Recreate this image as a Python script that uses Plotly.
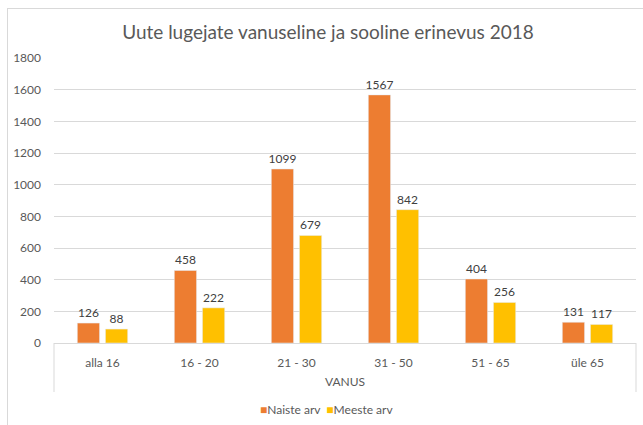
import plotly.graph_objects as go

categories = ["alla 16", "16 - 20", "21 - 30", "31 - 50", "51 - 65", "üle 65"]
naiste = [126, 458, 1099, 1567, 404, 131]
meeste = [88, 222, 679, 842, 256, 117]
y_ticks = [0, 200, 400, 600, 800, 1000, 1200, 1400, 1600, 1800]
series_names = ["Naiste arv", "Meeste arv"]
series_colors = ["#ED7D31", "#FFC000"]

FONT = "Lato, 'Open Sans', sans-serif"
GREY = "#595959"
GRID = "#D9D9D9"

fig = go.Figure()
for name, vals, col in zip(series_names, [naiste, meeste], series_colors):
    fig.add_trace(go.Bar(name=name, x=categories, y=vals, marker_color=col,
                         text=vals, textposition="outside", cliponaxis=False, constraintext="none",
                         showlegend=False,
                         textfont=dict(color="#404040", size=12, family=FONT)))

L, R, T, B = 54, 7, 58, 82
W, H = 643, 425
pw = W - L - R
ph = H - T - B

def px(x):
    return (x - L) / pw

def py(y):
    return (H - B - y) / ph

shapes = [
    dict(type="rect", xref="paper", yref="paper", x0=px(7), x1=px(8), y0=py(425), y1=py(8),
         fillcolor=GRID, line=dict(width=0)),
    dict(type="line", xref="paper", yref="paper", x0=0, x1=0, y0=0, y1=py(392),
         line=dict(color=GRID, width=1)),
    dict(type="line", xref="paper", yref="paper", x0=1, x1=1, y0=0, y1=py(392),
         line=dict(color=GRID, width=1)),
]

legend_text = "&nbsp;&nbsp;".join(
    f'<span style="color:{c}">■</span>{n}' for n, c in zip(series_names, series_colors)
)
annotations = [
    dict(text=legend_text, xref="paper", yref="paper", x=px(326), y=py(409),
         xanchor="center", yanchor="middle", showarrow=False,
         font=dict(size=12, color=GREY, family=FONT)),
]

fig.update_layout(
    width=W, height=H,
    margin=dict(l=L, r=R, t=T, b=B, pad=0, autoexpand=False),
    paper_bgcolor="white", plot_bgcolor="white",
    font=dict(family=FONT, color=GREY, size=12),
    title=dict(text="Uute lugejate vanuseline ja sooline erinevus 2018",
               x=328 / W, xanchor="center", y=1 - 32 / H, yanchor="middle",
               font=dict(size=19, color=GREY, family=FONT)),
    barmode="group", bargap=0.42, bargroupgap=0.21,
    xaxis=dict(showline=True, linecolor=GRID, linewidth=1, ticks="", showgrid=False,
               automargin=False, ticklabelstandoff=9,
               tickfont=dict(size=12, color=GREY),
               title=dict(text="VANUS", font=dict(size=12, color=GREY), standoff=8)),
    yaxis=dict(range=[0, 1800], tickvals=y_ticks, showgrid=True, gridcolor=GRID, gridwidth=1,
               zeroline=False, showline=False, ticks="", ticklabelstandoff=12, automargin=False,
               tickfont=dict(size=12, color=GREY)),
    showlegend=False,
    shapes=shapes,
    annotations=annotations,
)

post = """
document.body.style.margin='0';
var b = document.createElement('div');
b.style.position='absolute'; b.style.left='7px'; b.style.top='8px';
b.style.width='640px'; b.style.height='1px'; b.style.background='#D9D9D9';
b.style.pointerEvents='none'; b.style.zIndex='10';
document.body.appendChild(b);
"""
fig.write_html("out.html", config={"displayModeBar": False}, post_script=post)
